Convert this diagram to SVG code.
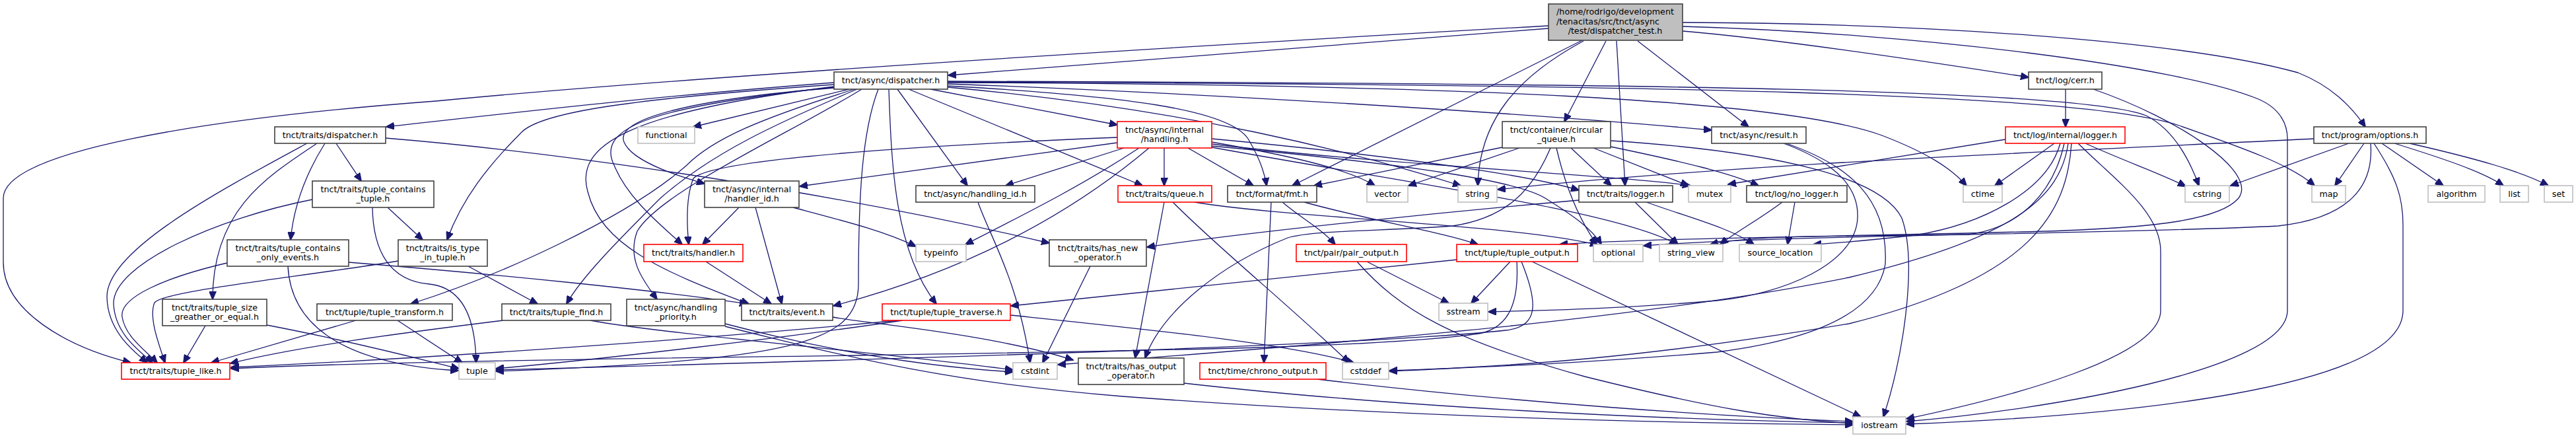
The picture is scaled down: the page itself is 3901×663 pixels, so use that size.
<svg xmlns="http://www.w3.org/2000/svg" width="3901" height="663" viewBox="0 0 3901 663">
<style>
.n rect{fill:#fff;stroke:#404040;stroke-width:1.6}
.r rect{fill:#fff;stroke:#ff0000;stroke-width:1.6}
.g rect{fill:#fff;stroke:#bfbfbf;stroke-width:1.6}
.root rect{fill:#bfbfbf;stroke:#404040;stroke-width:1.6}
text{font-family:"DejaVu Sans","Liberation Sans",sans-serif;font-size:12.7px;fill:#000;text-anchor:middle}
.e path{fill:none;stroke:#191970;stroke-width:1.3;marker-end:url(#a)}
</style>
<defs>
<marker id="a" markerUnits="userSpaceOnUse" markerWidth="13" markerHeight="11" viewBox="0 0 13 11" refX="12" refY="5.5" orient="auto"><path d="M0,0L13,5.5L0,11z" fill="#191970" stroke="#191970"/></marker>
</defs>
<rect width="3901" height="663" fill="#fff"/>
<g id="edges" class="e">
<path d="M2345,43 C2000,70 1700,95 1436,114"/>
<path d="M2345,39 C1700,75 1000,120 660,153 C300,180 5,230 5,300 L5,397 C5,470 100,525 198,549"/>
<path d="M2396,61 L1957,281"/>
<path d="M2398,62 C2300,115 2240,180 2238,281"/>
<path d="M2432,62 L2369,184"/>
<path d="M2448,62 L2461,281"/>
<path d="M2480,62 L2648,192"/>
<path d="M2548,47 C2700,60 2900,90 3072,117"/>
<path d="M2548,34 C2900,35 3300,60 3480,110 C3530,130 3560,160 3582,192"/>
<path d="M2548,40 C2900,50 3300,100 3420,150 C3455,165 3464,190 3464,210 L3464,470 C3464,560 3100,620 2887,638"/>
<path d="M1263,125 C1000,145 800,168 585,192"/>
<path d="M1286,135 L1050,192"/>
<path d="M1263,133 C1050,150 930,180 945,215 C955,240 1010,262 1067,278"/>
<path d="M1409,135 L1692,189"/>
<path d="M1359,135 L1465,281"/>
<path d="M1376,135 L1730,281"/>
<path d="M1435,130 C1700,145 1860,165 1890,210 C1905,235 1915,260 1918,281"/>
<path d="M1263,132 C1000,160 900,190 930,250 C950,300 1000,340 1033,370"/>
<path d="M1263,131 C950,170 870,220 890,290 C910,370 1000,410 1134,460"/>
<path d="M1298,135 C1180,185 1080,230 1000,300 C940,360 880,420 858,460"/>
<path d="M1305,135 C1200,200 1000,290 965,350 C950,390 970,420 995,453"/>
<path d="M1263,128 C950,150 820,170 790,200 C740,250 700,300 677,363"/>
<path d="M1294,135 C1150,180 1080,210 1040,250 C950,330 750,420 622,460"/>
<path d="M1330,135 C1305,200 1300,300 1300,430 C1300,520 1200,545 751,562"/>
<path d="M1346,135 C1350,250 1355,380 1418,460"/>
<path d="M1435,127 C1800,140 2300,170 2592,197"/>
<path d="M1435,132 C1800,165 2050,230 2212,281"/>
<path d="M1435,125 C2200,128 2700,150 2850,205 C2920,232 2955,255 2978,281"/>
<path d="M1435,124 C2500,128 3150,140 3300,190 C3400,225 3470,250 3505,281"/>
<path d="M1435,123 C2500,126 3150,135 3250,175 C3290,195 3315,240 3330,281"/>
<path d="M1692,216 L1211,282"/>
<path d="M1692,208 C1400,220 1080,240 1050,270 C1038,300 1040,340 1043,370"/>
<path d="M1702,224 L1523,281"/>
<path d="M1725,224 C1640,280 1560,320 1462,370"/>
<path d="M1740,224 C1650,300 1500,400 1262,463"/>
<path d="M1763,224 L1763,281"/>
<path d="M1799,224 L1898,281"/>
<path d="M1835,215 C1950,235 2040,255 2082,281"/>
<path d="M1835,210 C2050,230 2300,260 2391,288"/>
<path d="M1835,218 C2100,250 2450,265 2560,281"/>
<path d="M1835,221 C2150,250 2300,275 2340,300 C2380,325 2410,345 2425,370"/>
<path d="M1835,223 C2150,280 2450,320 2540,370"/>
<path d="M509,217 L547,274"/>
<path d="M492,217 C465,260 445,310 440,363"/>
<path d="M480,217 C400,270 322,320 322,453"/>
<path d="M465,217 C330,290 160,380 162,450 C163,500 200,530 223,549"/>
<path d="M584,209 C900,235 1300,300 1589,368"/>
<path d="M473,302 C330,330 170,400 172,460 C174,505 210,530 231,549"/>
<path d="M587,314 L640,363"/>
<path d="M564,314 C565,380 590,425 650,430 C700,435 720,480 721,549"/>
<path d="M344,398 C250,420 180,450 185,480 C190,510 220,530 238,549"/>
<path d="M528,397 C750,415 1000,440 1132,460"/>
<path d="M436,403 C440,480 500,550 694,561"/>
<path d="M603,395 C450,420 250,440 234,458 C225,480 240,520 250,549"/>
<path d="M709,403 L814,460"/>
<path d="M311,493 L278,549"/>
<path d="M404,492 C550,520 640,545 695,558"/>
<path d="M539,485 L320,549"/>
<path d="M602,485 C640,510 670,530 700,549"/>
<path d="M762,485 C600,505 450,525 349,550"/>
<path d="M894,485 C1000,505 1350,535 1534,560"/>
<path d="M1098,490 C1250,530 1400,555 1534,563"/>
<path d="M1098,494 C1300,545 1450,580 1700,600 C2100,630 2500,640 2806,643"/>
<path d="M1119,314 L1064,370"/>
<path d="M1144,314 L1184,460"/>
<path d="M1201,314 C1280,335 1340,350 1387,373"/>
<path d="M1069,396 L1168,460"/>
<path d="M1481,306 C1500,360 1540,420 1560,549"/>
<path d="M1651,403 L1579,549"/>
<path d="M1763,306 L1719,542"/>
<path d="M1776,306 C1850,380 1950,460 2043,549"/>
<path d="M1809,306 C1950,330 2300,340 2420,371"/>
<path d="M1925,306 L1914,549"/>
<path d="M1942,306 C1970,330 2000,345 2022,370"/>
<path d="M1975,306 C2080,335 2180,350 2238,370"/>
<path d="M2275,223 L1990,281"/>
<path d="M2301,224 L2133,281"/>
<path d="M2379,224 L2440,281"/>
<path d="M2413,224 L2557,281"/>
<path d="M2439,222 C2550,245 2620,262 2663,281"/>
<path d="M2357,224 C2370,280 2390,330 2418,370"/>
<path d="M2348,224 C2320,290 2280,330 2200,342 C2100,350 1990,348 1950,360 C1850,400 1760,470 1734,542"/>
<path d="M2439,213 C2700,230 2850,270 2880,330 C2905,400 2880,550 2852,631"/>
<path d="M2701,217 C2790,250 2815,290 2813,330 C2810,400 2700,445 2600,455 C2450,468 2330,470 2254,472"/>
<path d="M2705,217 C2800,250 2860,300 2855,400 C2840,490 2700,520 2600,533 C2400,550 2250,555 2104,562"/>
<path d="M2391,303 C2200,320 1900,350 1737,374"/>
<path d="M2476,306 L2541,370"/>
<path d="M2493,306 C2560,330 2620,345 2656,370"/>
<path d="M2699,306 C2660,335 2630,350 2605,370"/>
<path d="M2718,306 L2707,370"/>
<path d="M3037,211 L2617,279"/>
<path d="M3111,217 L3021,281"/>
<path d="M3120,217 C3100,290 3000,340 2900,356 C2820,365 2780,368 2746,370"/>
<path d="M3126,217 C3110,290 3060,345 2980,355 C2800,358 2650,355 2590,370"/>
<path d="M3132,217 C3120,300 3050,360 2800,420 C2500,480 2100,515 1602,552"/>
<path d="M3137,217 C3130,320 3080,420 2800,490 C2500,540 2300,555 2104,561"/>
<path d="M3147,217 C3200,270 3272,320 3272,380 L3272,470 C3272,540 3050,600 2887,634"/>
<path d="M3158,217 C3220,245 3270,262 3310,282"/>
<path d="M3504,210 C3100,230 2600,250 2268,287"/>
<path d="M3557,217 L3378,281"/>
<path d="M3580,217 L3536,281"/>
<path d="M3590,217 C3595,280 3560,330 3450,342 C3200,355 2700,355 2489,372"/>
<path d="M3595,217 C3630,270 3639,300 3639,340 L3639,470 C3639,590 3200,630 2887,642"/>
<path d="M3607,217 L3700,281"/>
<path d="M3626,217 C3700,240 3760,260 3791,281"/>
<path d="M3649,217 C3750,240 3820,260 3859,281"/>
<path d="M3128,135 L3128,192"/>
<path d="M3170,135 C3300,180 3420,260 3390,300 C3360,335 3250,345 3100,350 C2800,358 2500,360 2362,370"/>
<path d="M2287,396 L2228,459"/>
<path d="M2207,393 C2000,415 1750,440 1531,463"/>
<path d="M2297,396 C2300,450 2290,495 2240,505 C2100,525 1800,530 1300,538 C900,543 500,550 350,558"/>
<path d="M2304,396 C2330,460 2330,495 2280,500 C2100,520 1500,540 751,560"/>
<path d="M2320,396 L2818,631"/>
<path d="M2070,396 L2194,459"/>
<path d="M2055,396 C2120,470 2200,515 2400,570 C2600,620 2700,635 2806,641"/>
<path d="M1995,574 C2300,610 2600,630 2806,638"/>
<path d="M1793,580 C2100,615 2500,635 2806,640"/>
<path d="M1360,485 C1100,510 700,540 350,556"/>
<path d="M1367,485 C1200,510 900,545 751,558"/>
<path d="M1530,477 C1750,500 1950,520 2050,549"/>
<path d="M1261,480 C1300,488 1500,505 1625,545"/>
</g>
<g id="n_root" class="root"><rect x="2345" y="6" width="203" height="55"/><text x="2446" y="22">/home/rodrigo/development</text><text x="2435" y="37">/tenacitas/src/tnct/async</text><text x="2446" y="51">/test/dispatcher_test.h</text></g>
<g id="n_async_dispatcher" class="n"><rect x="1263" y="109" width="172" height="26"/><text x="1349" y="126">tnct/async/dispatcher.h</text></g>
<g id="n_traits_dispatcher" class="n"><rect x="416" y="192" width="168" height="25"/><text x="500" y="208.5">tnct/traits/dispatcher.h</text></g>
<g id="n_functional" class="g"><rect x="966" y="192" width="86" height="25"/><text x="1009" y="208.5">functional</text></g>
<g id="n_handling" class="r"><rect x="1692" y="184" width="143" height="40"/><text x="1763.5" y="201">tnct/async/internal</text><text x="1763.5" y="215">/handling.h</text></g>
<g id="n_circular_queue" class="n"><rect x="2275" y="184" width="164" height="40"/><text x="2357" y="201">tnct/container/circular</text><text x="2357" y="215">_queue.h</text></g>
<g id="n_result" class="n"><rect x="2592" y="192" width="143" height="25"/><text x="2663.5" y="208.5">tnct/async/result.h</text></g>
<g id="n_cerr" class="n"><rect x="3072" y="109" width="111" height="26"/><text x="3127.5" y="126">tnct/log/cerr.h</text></g>
<g id="n_log_logger" class="r"><rect x="3037" y="192" width="181" height="25"/><text x="3127.5" y="208.5">tnct/log/internal/logger.h</text></g>
<g id="n_options" class="n"><rect x="3504" y="192" width="170" height="25"/><text x="3589" y="208.5">tnct/program/options.h</text></g>
<g id="n_contains_tuple" class="n"><rect x="473" y="274" width="184" height="40"/><text x="565" y="291">tnct/traits/tuple_contains</text><text x="565" y="305">_tuple.h</text></g>
<g id="n_handler_id" class="n"><rect x="1067" y="274" width="143" height="40"/><text x="1138.5" y="291">tnct/async/internal</text><text x="1138.5" y="305">/handler_id.h</text></g>
<g id="n_handling_id" class="n"><rect x="1387" y="281" width="180" height="25"/><text x="1477" y="297.5">tnct/async/handling_id.h</text></g>
<g id="n_queue" class="r"><rect x="1693" y="281" width="142" height="25"/><text x="1764" y="297.5">tnct/traits/queue.h</text></g>
<g id="n_fmt" class="n"><rect x="1859" y="281" width="135" height="25"/><text x="1926.5" y="297.5">tnct/format/fmt.h</text></g>
<g id="n_vector" class="g"><rect x="2070" y="281" width="62" height="25"/><text x="2101" y="297.5">vector</text></g>
<g id="n_string" class="g"><rect x="2208" y="281" width="59" height="25"/><text x="2237.5" y="297.5">string</text></g>
<g id="n_traits_logger" class="n"><rect x="2391" y="281" width="142" height="25"/><text x="2462" y="297.5">tnct/traits/logger.h</text></g>
<g id="n_mutex" class="g"><rect x="2557" y="281" width="64" height="25"/><text x="2589" y="297.5">mutex</text></g>
<g id="n_no_logger" class="n"><rect x="2645" y="281" width="152" height="25"/><text x="2721" y="297.5">tnct/log/no_logger.h</text></g>
<g id="n_ctime" class="g"><rect x="2973" y="281" width="59" height="25"/><text x="3002.5" y="297.5">ctime</text></g>
<g id="n_cstring" class="g"><rect x="3309" y="281" width="67" height="25"/><text x="3342.5" y="297.5">cstring</text></g>
<g id="n_map" class="g"><rect x="3501" y="281" width="51" height="25"/><text x="3526.5" y="297.5">map</text></g>
<g id="n_algorithm" class="g"><rect x="3677" y="281" width="86" height="25"/><text x="3720" y="297.5">algorithm</text></g>
<g id="n_list" class="g"><rect x="3786" y="281" width="43" height="25"/><text x="3807.5" y="297.5">list</text></g>
<g id="n_set" class="g"><rect x="3853" y="281" width="43" height="25"/><text x="3874.5" y="297.5">set</text></g>
<g id="n_contains_only_events" class="n"><rect x="344" y="363" width="184" height="40"/><text x="436" y="380">tnct/traits/tuple_contains</text><text x="436" y="394">_only_events.h</text></g>
<g id="n_is_type_in_tuple" class="n"><rect x="603" y="363" width="135" height="40"/><text x="670.5" y="380">tnct/traits/is_type</text><text x="670.5" y="394">_in_tuple.h</text></g>
<g id="n_handler" class="r"><rect x="975" y="370" width="150" height="26"/><text x="1050" y="387">tnct/traits/handler.h</text></g>
<g id="n_typeinfo" class="g"><rect x="1387" y="370" width="76" height="26"/><text x="1425" y="387">typeinfo</text></g>
<g id="n_has_new_operator" class="n"><rect x="1589" y="363" width="147" height="40"/><text x="1662.5" y="380">tnct/traits/has_new</text><text x="1662.5" y="394">_operator.h</text></g>
<g id="n_pair_output" class="r"><rect x="1963" y="370" width="167" height="26"/><text x="2046.5" y="387">tnct/pair/pair_output.h</text></g>
<g id="n_tuple_output" class="r"><rect x="2206" y="370" width="183" height="26"/><text x="2297.5" y="387">tnct/tuple/tuple_output.h</text></g>
<g id="n_optional" class="g"><rect x="2413" y="370" width="75" height="26"/><text x="2450.5" y="387">optional</text></g>
<g id="n_string_view" class="g"><rect x="2513" y="370" width="96" height="26"/><text x="2561" y="387">string_view</text></g>
<g id="n_source_location" class="g"><rect x="2634" y="370" width="124" height="26"/><text x="2696" y="387">source_location</text></g>
<g id="n_tuple_size" class="n"><rect x="246" y="453" width="158" height="40"/><text x="325" y="470">tnct/traits/tuple_size</text><text x="325" y="484">_greather_or_equal.h</text></g>
<g id="n_tuple_transform" class="n"><rect x="480" y="460" width="205" height="25"/><text x="582.5" y="476.5">tnct/tuple/tuple_transform.h</text></g>
<g id="n_tuple_find" class="n"><rect x="760" y="460" width="165" height="25"/><text x="842.5" y="476.5">tnct/traits/tuple_find.h</text></g>
<g id="n_handling_priority" class="n"><rect x="949" y="453" width="149" height="40"/><text x="1023.5" y="470">tnct/async/handling</text><text x="1023.5" y="484">_priority.h</text></g>
<g id="n_event" class="n"><rect x="1123" y="460" width="138" height="25"/><text x="1192" y="476.5">tnct/traits/event.h</text></g>
<g id="n_tuple_traverse" class="r"><rect x="1336" y="460" width="194" height="25"/><text x="1433" y="476.5">tnct/tuple/tuple_traverse.h</text></g>
<g id="n_sstream" class="g"><rect x="2179" y="459" width="74" height="26"/><text x="2216" y="476">sstream</text></g>
<g id="n_tuple_like" class="r"><rect x="184" y="549" width="164" height="25"/><text x="266" y="565.5">tnct/traits/tuple_like.h</text></g>
<g id="n_tuple" class="g"><rect x="695" y="549" width="55" height="25"/><text x="722.5" y="565.5">tuple</text></g>
<g id="n_cstdint" class="g"><rect x="1534" y="549" width="67" height="25"/><text x="1567.5" y="565.5">cstdint</text></g>
<g id="n_has_output_operator" class="n"><rect x="1633" y="542" width="160" height="40"/><text x="1713" y="559">tnct/traits/has_output</text><text x="1713" y="573">_operator.h</text></g>
<g id="n_chrono_output" class="r"><rect x="1817" y="549" width="191" height="25"/><text x="1912.5" y="565.5">tnct/time/chrono_output.h</text></g>
<g id="n_cstddef" class="g"><rect x="2033" y="549" width="70" height="25"/><text x="2068" y="565.5">cstddef</text></g>
<g id="n_iostream" class="g"><rect x="2806" y="631" width="80" height="26"/><text x="2846" y="648">iostream</text></g>
</svg>
